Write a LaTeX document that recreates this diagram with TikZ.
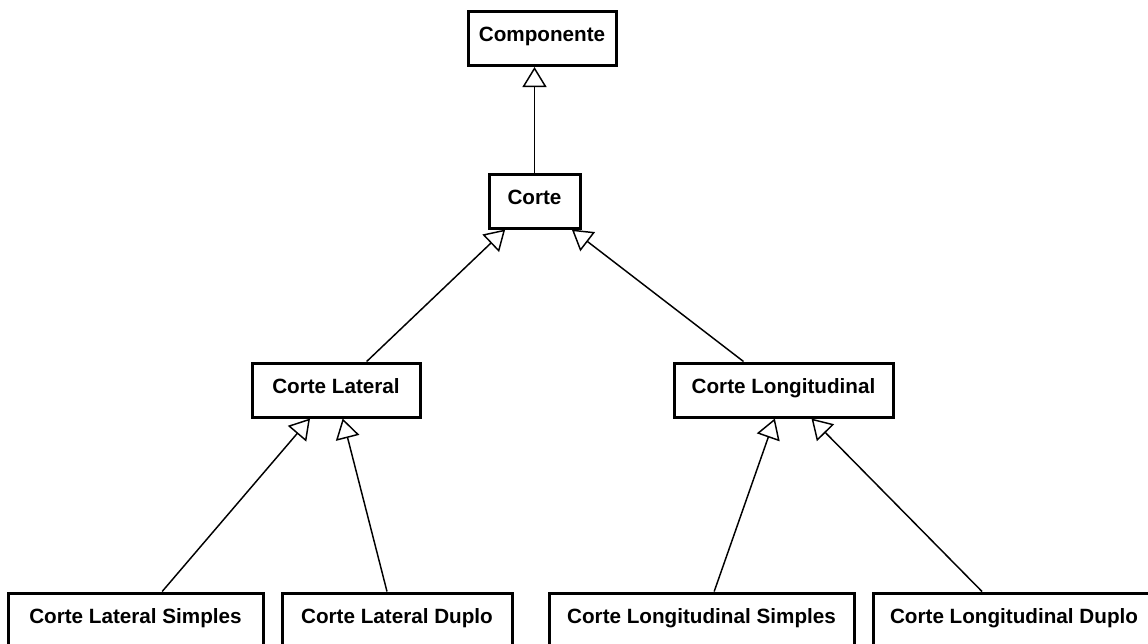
\documentclass[tikz,border=0pt]{standalone}
\usepackage{fontspec}
\setmainfont{Liberation Sans}
\usetikzlibrary{arrows.meta}

\begin{document}
\begin{tikzpicture}[x=0.75pt,y=-0.75pt,>={Triangle[open,length=15pt,width=18pt,fill=white]},
                    box/.style={draw,line width=2.25pt,minimum height=40.5pt,inner sep=0pt,
                                text height=11pt,text depth=6pt,
                                font=\fontsize{15.5pt}{18pt}\selectfont\bfseries},
                    every path/.style={line width=1.1pt}]
                    \useasboundingbox (0,0) rectangle (1148,643);

                    \node[box,minimum width=111pt]    (comp) at (542,38.5)  {Componente};
                    \node[box,minimum width=68.25pt]  (corte) at (534.5,201) {Corte};
                    \node[box,minimum width=126pt]    (lat) at (336,390)    {Corte Lateral};
                    \node[box,minimum width=164.25pt] (lon) at (783.5,390)  {Corte Longitudinal};
                    \node[box,minimum width=191.25pt] (lats) at (135.5,620) {Corte Lateral Simples};
                    \node[box,minimum width=172.5pt]  (latd) at (397,620)   {Corte Lateral Duplo};
                    \node[box,minimum width=228.75pt] (lons) at (701.5,620) {Corte Longitudinal Simples};
                    \node[box,minimum width=211.5pt]  (lond) at (1014,620)  {Corte Longitudinal Duplo};

                    \draw [->] (corte.north) -- (corte.north |- comp.south);

                    \draw [->] ([xshift=23pt]lat.north) -- ([xshift=-22pt]corte.south);
                    \draw [->] ([xshift=-30pt]lon.north) -- ([xshift=28pt]corte.south);

                    \draw [->] ([xshift=20pt]lats.north) -- ([xshift=-19.5pt]lat.south);
                    \draw [->] ([xshift=-7.5pt]latd.north) -- ([xshift=5pt]lat.south);

                    \draw [->] ([xshift=9.5pt]lons.north) -- ([xshift=-6.5pt]lon.south);
                    \draw [->] ([xshift=-24pt]lond.north) -- ([xshift=21pt]lon.south);

                \end{tikzpicture}
\end{document}
